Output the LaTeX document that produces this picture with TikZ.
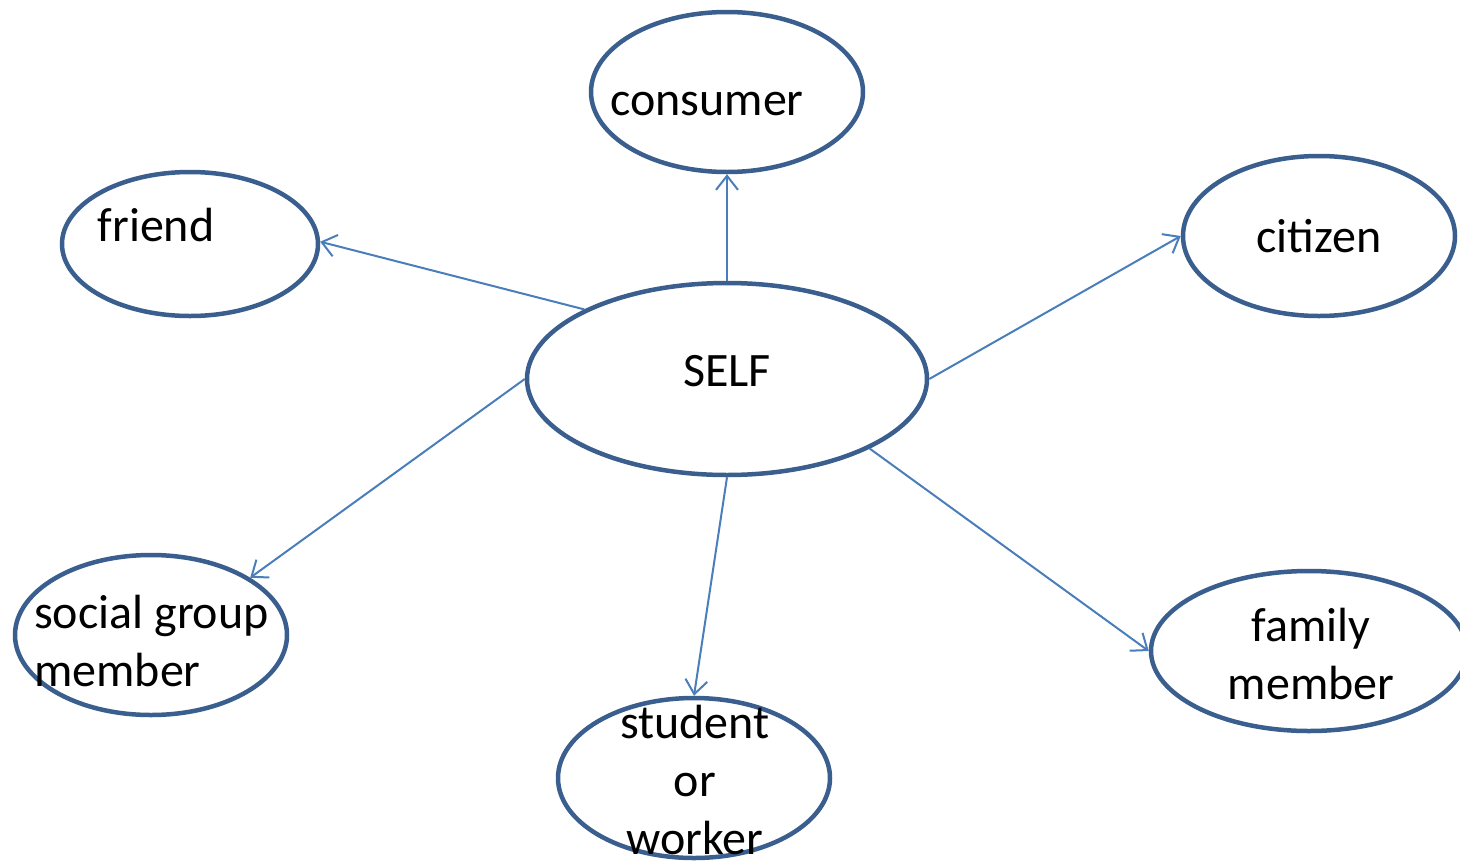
\documentclass[tikz,border=0pt]{standalone}
\usepackage{fontspec}
\setmainfont{Carlito}
\usetikzlibrary{shapes.geometric,arrows.meta}
\definecolor{rim}{HTML}{3A5F8E}
\definecolor{link}{HTML}{4A7EBB}
\begin{document}
\begin{tikzpicture}[x=1pt,y=-1pt,
  role/.style={ellipse,draw=rim,line width=4.5pt,fill=white,inner sep=0pt,minimum width=272pt,minimum height=160pt},
  lbl/.style={font=\fontsize{48}{58}\selectfont,inner sep=0pt,text=black},
  link/.style={draw=link,line width=2pt,-{Straight Barb[length=14pt,width=22pt,line width=2pt]}}]
\useasboundingbox (0,0) rectangle (1460,860);
% outer roles around the central self
\node[role] (consumer) at (727,92) {};
\node[role,minimum width=256pt,minimum height=144pt] (friend) at (190,244) {};
\node[role] (citizen) at (1319,236) {};
\node[role,minimum width=400pt,minimum height=192pt] (self) at (727,379) {};
\node[role] (social) at (151,635) {};
\node[role] (student) at (694,778) {};
\node[role,minimum width=316pt] (family) at (1309,651) {};
% labels
\node[lbl,anchor=base] (tconsumer) at (707,115) {consumer};
\node[lbl,anchor=base] (tfriend) at (156,241) {friend};
\node[lbl,anchor=base] (tcitizen) at (1319,252) {citizen};
\node[lbl,anchor=base] (tself) at (727,386) {SELF};
\node[lbl,align=left,anchor=west] (tsocial) at (34,641) {social group\\member};
\node[lbl,align=center] (tstudent) at (695,780) {student\\or\\worker};
\node[lbl,align=center] (tfamily) at (1311,654) {family\\member};
% connectors
\draw[link] (self.90) -- (consumer.270);
\draw[link] (self.154) -- (friend.1);
\draw[link] (self.0) -- (citizen.180);
\draw[link] (self.180) -- (social.30);
\draw[link] (self.270) -- (student.90);
\draw[link] (self.-26) -- (family.180);
\end{tikzpicture}
\end{document}
